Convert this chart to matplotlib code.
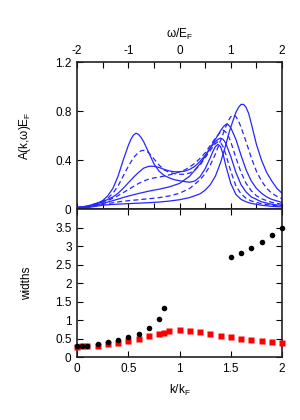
import numpy as np
import matplotlib
matplotlib.use('Agg')
import matplotlib.pyplot as plt
from matplotlib.ticker import MultipleLocator, FuncFormatter

plt.rcParams['font.family'] = ['Liberation Sans', 'DejaVu Sans']
plt.rcParams['font.size'] = 8.5
plt.rcParams['mathtext.fontset'] = 'custom'
plt.rcParams['mathtext.rm'] = 'Liberation Sans'
plt.rcParams['mathtext.it'] = 'Liberation Sans'

'''spectral functions A(k,w) (top panel), solid / dashed alternating'''
w1 = [-2.0, -1.8, -1.6, -1.5, -1.4, -1.3, -1.2, -1.1, -1.0, -0.95, -0.9, -0.85, -0.8, -0.75, -0.7,
      -0.6, -0.5, -0.4, -0.3, -0.2, -0.1, 0.0, 0.1, 0.2, 0.3, 0.4, 0.5, 0.6, 0.65, 0.7, 0.75, 0.8,
      0.85, 0.9, 1.0, 1.1, 1.2, 1.3, 1.4, 1.6, 1.8, 2.0]
A1 = [0.015, 0.025, 0.05, 0.07, 0.11, 0.17, 0.27, 0.40, 0.52, 0.57, 0.605, 0.62, 0.61, 0.585, 0.55,
      0.46, 0.37, 0.31, 0.275, 0.255, 0.24, 0.232, 0.225, 0.22, 0.23, 0.265, 0.33, 0.42, 0.47, 0.51, 0.53, 0.51,
      0.45, 0.36, 0.21, 0.12, 0.08, 0.06, 0.047, 0.032, 0.023, 0.018]

w2 = [-2.0, -1.8, -1.6, -1.5, -1.4, -1.3, -1.2, -1.1, -1.0, -0.9, -0.8, -0.75, -0.7, -0.65, -0.6,
      -0.5, -0.4, -0.3, -0.2, -0.1, 0.0, 0.1, 0.2, 0.3, 0.4, 0.5, 0.6, 0.7, 0.75, 0.8, 0.85, 0.9,
      1.0, 1.1, 1.2, 1.3, 1.4, 1.6, 1.8, 2.0]
A2 = [0.015, 0.025, 0.05, 0.065, 0.09, 0.13, 0.19, 0.27, 0.35, 0.42, 0.465, 0.477, 0.48, 0.475, 0.46,
      0.41, 0.36, 0.32, 0.30, 0.29, 0.285, 0.285, 0.295, 0.32, 0.36, 0.42, 0.48, 0.535, 0.55, 0.545, 0.51, 0.45,
      0.31, 0.19, 0.125, 0.088, 0.067, 0.044, 0.031, 0.023]

w3 = [-2.0, -1.8, -1.6, -1.5, -1.4, -1.3, -1.2, -1.1, -1.0, -0.9, -0.8, -0.7, -0.6, -0.5, -0.4, -0.3,
      -0.2, -0.1, 0.0, 0.1, 0.2, 0.3, 0.4, 0.5, 0.6, 0.7, 0.75, 0.8, 0.85, 0.9, 1.0, 1.1, 1.2, 1.3,
      1.4, 1.6, 1.8, 2.0]
A3 = [0.012, 0.022, 0.045, 0.06, 0.08, 0.10, 0.13, 0.17, 0.215, 0.26, 0.30, 0.335, 0.35, 0.35, 0.34, 0.325,
      0.312, 0.305, 0.305, 0.31, 0.325, 0.35, 0.39, 0.44, 0.50, 0.55, 0.57, 0.58, 0.57, 0.54, 0.43, 0.30, 0.20, 0.14,
      0.10, 0.06, 0.04, 0.03]

w4 = [-2.0, -1.8, -1.6, -1.5, -1.4, -1.3, -1.2, -1.1, -1.0, -0.9, -0.8, -0.7, -0.6, -0.5, -0.4, -0.3,
      -0.2, -0.1, 0.0, 0.1, 0.2, 0.3, 0.4, 0.5, 0.6, 0.7, 0.8, 0.85, 0.9, 0.95, 1.0, 1.1, 1.2, 1.3,
      1.4, 1.5, 1.6, 1.8, 2.0]
A4 = [0.01, 0.02, 0.04, 0.055, 0.07, 0.09, 0.11, 0.135, 0.16, 0.185, 0.21, 0.23, 0.245, 0.255, 0.262, 0.27,
      0.28, 0.29, 0.305, 0.32, 0.345, 0.375, 0.415, 0.46, 0.52, 0.58, 0.63, 0.645, 0.63, 0.60, 0.55, 0.42, 0.30, 0.21,
      0.15, 0.11, 0.085, 0.055, 0.04]

w5 = [-2.0, -1.8, -1.6, -1.5, -1.4, -1.3, -1.2, -1.1, -1.0, -0.8, -0.6, -0.4, -0.2, 0.0, 0.2, 0.4,
      0.5, 0.6, 0.7, 0.8, 0.85, 0.9, 0.95, 1.0, 1.1, 1.2, 1.3, 1.4, 1.5, 1.6, 1.7, 1.8, 2.0]
A5 = [0.008, 0.017, 0.035, 0.047, 0.058, 0.07, 0.082, 0.095, 0.107, 0.128, 0.147, 0.163, 0.182, 0.21, 0.27, 0.37,
      0.43, 0.50, 0.57, 0.64, 0.67, 0.69, 0.69, 0.665, 0.57, 0.44, 0.32, 0.23, 0.17, 0.13, 0.10, 0.08, 0.055]

w6 = [-2.0, -1.8, -1.6, -1.5, -1.4, -1.2, -1.0, -0.8, -0.6, -0.4, -0.2, 0.0, 0.2, 0.4, 0.5, 0.6,
      0.7, 0.8, 0.9, 0.95, 1.0, 1.05, 1.1, 1.15, 1.2, 1.3, 1.4, 1.5, 1.6, 1.7, 1.8, 1.9, 2.0]
A6 = [0.006, 0.013, 0.03, 0.038, 0.046, 0.059, 0.069, 0.077, 0.085, 0.094, 0.108, 0.13, 0.17, 0.24, 0.29, 0.36,
      0.45, 0.56, 0.67, 0.72, 0.755, 0.77, 0.755, 0.72, 0.67, 0.55, 0.42, 0.31, 0.23, 0.17, 0.13, 0.105, 0.085]

w7 = [-2.0, -1.8, -1.6, -1.5, -1.4, -1.2, -1.0, -0.8, -0.6, -0.4, -0.2, 0.0, 0.2, 0.4, 0.5, 0.6,
      0.7, 0.8, 0.9, 0.95, 1.0, 1.05, 1.1, 1.15, 1.2, 1.25, 1.3, 1.35, 1.4, 1.5, 1.6, 1.7, 1.8, 1.9, 2.0]
A7 = [0.005, 0.012, 0.026, 0.032, 0.036, 0.041, 0.045, 0.049, 0.053, 0.058, 0.066, 0.077, 0.095, 0.125, 0.155, 0.20,
      0.27, 0.38, 0.52, 0.60, 0.67, 0.73, 0.79, 0.83, 0.855, 0.855, 0.83, 0.78, 0.70, 0.53, 0.40, 0.30, 0.23, 0.17, 0.13]

curves = [(w1, A1, '-'), (w2, A2, '--'), (w3, A3, '-'), (w4, A4, '--'),
          (w5, A5, '-'), (w6, A6, '--'), (w7, A7, '-')]

'''widths vs k (bottom panel)'''
k_black = [0.0, 0.05, 0.1, 0.2, 0.3, 0.4, 0.5, 0.6, 0.7, 0.8, 0.85, 1.5, 1.6, 1.7, 1.8, 1.9, 2.0]
width_black = [0.29, 0.30, 0.31, 0.345, 0.41, 0.47, 0.545, 0.63, 0.785, 1.03, 1.32,
               2.71, 2.81, 2.95, 3.11, 3.29, 3.49]
k_red = [0.0, 0.05, 0.1, 0.2, 0.3, 0.4, 0.5, 0.6, 0.7, 0.8, 0.85, 0.9, 1.0, 1.1, 1.2, 1.3,
         1.4, 1.5, 1.6, 1.7, 1.8, 1.9, 2.0]
width_red = [0.28, 0.29, 0.29, 0.30, 0.345, 0.39, 0.435, 0.50, 0.56, 0.635, 0.66, 0.69, 0.725, 0.71,
             0.665, 0.62, 0.57, 0.535, 0.50, 0.455, 0.425, 0.41, 0.37]

blue = '#2626ff'

fig = plt.figure(figsize=(3, 4.2), dpi=100)
ax1 = fig.add_axes([0.257, 0.502, 0.683, 0.350])
ax2 = fig.add_axes([0.257, 0.150, 0.683, 0.352])

for w, A, ls in curves:
    line, = ax1.plot(w, A, color=blue, lw=0.9, ls=ls)
    if ls == '--':
        line.set_dashes((4, 2.5))

ax1.set_xlim(-2, 2)
ax1.set_ylim(0, 1.2)
ax1.xaxis.set_major_locator(MultipleLocator(0.5))
ax1.xaxis.set_major_formatter(FuncFormatter(lambda v, p: f'{v:.0f}' if abs(v - round(v)) < 1e-6 else ''))
ax1.yaxis.set_major_locator(MultipleLocator(0.4))
ax1.yaxis.set_major_formatter(FuncFormatter(lambda v, p: '0' if v == 0 else f'{v:.1f}'))
ax1.tick_params(direction='in', top=True, right=True, bottom=True, labeltop=True, labelbottom=False,
                length=4, width=0.8, pad=4)
ax1.xaxis.set_label_position('top')
ax1.set_xlabel('ω/E$_\\mathrm{F}$', labelpad=5)
ax1.set_ylabel('A(k,ω)E$_\\mathrm{F}$')
ax1.yaxis.set_label_coords(-0.215, 0.5)

ax2.plot(k_red, width_red, 's', color='#ff0000', ms=4.2, mec='none', clip_on=False, zorder=3)
ax2.plot(k_black, width_black, 'o', color='black', ms=4, mec='none', clip_on=False, zorder=4)
ax2.set_xlim(0, 2)
ax2.set_ylim(0, 4)
ax2.xaxis.set_major_locator(MultipleLocator(0.5))
ax2.xaxis.set_major_formatter(FuncFormatter(lambda v, p: f'{v:g}'))
ax2.set_yticks(np.arange(0, 3.51, 0.5))
ax2.yaxis.set_major_formatter(FuncFormatter(lambda v, p: f'{v:g}'))
ax2.tick_params(direction='in', top=True, right=True, length=4, width=0.8, pad=4)
ax2.set_xlabel('k/k$_\\mathrm{F}$', labelpad=6)
ax2.set_ylabel('widths')
ax2.yaxis.set_label_coords(-0.215, 0.5)

for ax in (ax1, ax2):
    for s in ax.spines.values():
        s.set_linewidth(1.2)
        s.set_color('#222222')

fig.savefig('out.png', dpi=100)
